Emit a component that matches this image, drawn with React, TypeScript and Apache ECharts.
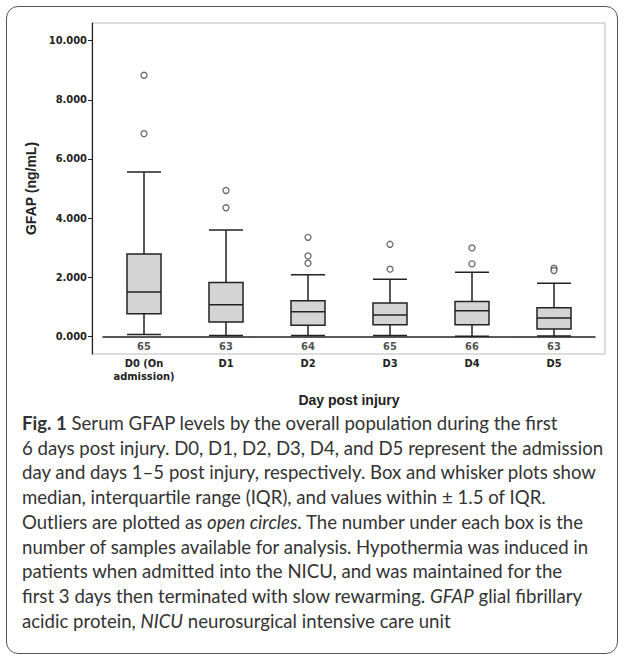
import React, { useEffect, useRef } from "react";
import * as echarts from "echarts";

const categories = ["D0 (On\nadmission)", "D1", "D2", "D3", "D4", "D5"];
// [low, Q1, median, Q3, high]
const boxes = [
  [56, 764, 1494, 2787, 5562],
  [22, 483, 1067, 1820, 3596],
  [22, 371, 831, 1202, 2079],
  [22, 393, 719, 1124, 1933],
  [0, 393, 865, 1180, 2169],
  [10, 247, 618, 966, 1798],
];
const outliers = [
  [0, 8831], [0, 6854],
  [1, 4933], [1, 4348],
  [2, 3348], [2, 2719], [2, 2472],
  [3, 3112], [3, 2270],
  [4, 2989], [4, 2449],
  [5, 2303], [5, 2225],
];
const counts = [65, 63, 64, 65, 66, 63];
const yTicks = [0, 2000, 4000, 6000, 8000, 10000];

export default function App() {
  const ref = useRef<HTMLDivElement>(null);
  useEffect(() => {
    const chart = echarts.init(ref.current!, null, { renderer: "svg" });
    const lab = { fontFamily: "Liberation Sans Narrow, DejaVu Sans Condensed, sans-serif", fontWeight: "bold", fontSize: 11, color: "#222" };
    chart.setOption({
      animation: false,
      graphic: [
        { type: "rect", shape: { x: 92, y: 23, width: 513, height: 331 }, style: { fill: "none", stroke: "#bbb", lineWidth: 1 }, z: 0 },
      ],
      grid: { left: 103, top: 23, width: 492, height: 331, outerBoundsMode: "none", containLabel: false },
      xAxis: {
        type: "category",
        data: categories,
        axisLine: { lineStyle: { color: "#222", width: 1.5 } },
        axisTick: { show: false },
        axisLabel: { ...lab, margin: 3, lineHeight: 13 },
        name: "Day post injury",
        nameLocation: "middle",
        nameGap: 39,
        nameTextStyle: { fontFamily: "Liberation Sans Narrow, sans-serif", fontWeight: "bold", fontSize: 14, color: "#222" },
        splitLine: { show: false },
      },
      yAxis: {
        type: "value",
        min: -600,
        max: 10600,
        offset: 11,
        axisLine: { show: true, lineStyle: { color: "#222", width: 1.2 } },
        axisTick: { show: true, customValues: yTicks, length: 4, lineStyle: { color: "#222" } },
        splitLine: { show: false },
        axisLabel: {
          ...lab,
          margin: 5,
          customValues: yTicks,
          formatter: (v: number) => (v / 1000).toFixed(3),
        },
        name: "GFAP (ng/mL)",
        nameLocation: "middle",
        nameGap: 44,
        nameRotate: 90,
        nameTextStyle: { fontFamily: "Liberation Sans, sans-serif", fontWeight: "bold", fontSize: 14, color: "#222" },
      },
      series: [
        {
          type: "boxplot",
          data: boxes,
          boxWidth: [34, 34],
          itemStyle: { color: "#d4d4d4", borderColor: "#222", borderWidth: 1.5 },
        },
        {
          type: "scatter",
          data: outliers,
          symbol: "circle",
          symbolSize: 6,
          itemStyle: { color: "#fff", borderColor: "#444", borderWidth: 1.3 },
        },
        {
          type: "scatter",
          data: counts.map((c, i) => [i, -330, c]),
          symbolSize: 0,
          label: { show: true, position: "inside", formatter: (p: any) => String(p.value[2]), ...lab, fontSize: 11 },
        },
      ],
    });
    return () => chart.dispose();
  }, []);
  return (
    <div style={{ position: "absolute", left: 0, top: 0, width: 624, height: 657, background: "#fff" }}>
      <div style={{ position: "absolute", left: 6, top: 6, width: 610, height: 646, border: "1.5px solid #555", borderRadius: 12 }} />
      <div ref={ref} style={{ position: "absolute", left: 0, top: 0, width: 624, height: 410 }} />
      <div style={{ position: "absolute", left: 22, top: 411, width: 600, fontFamily: "Lato, sans-serif", fontSize: 18.6, lineHeight: "24.7px", color: "#333", whiteSpace: "nowrap" }}>
        <b>Fig. 1</b> Serum GFAP levels by the overall population during the first<br />
        6 days post injury. D0, D1, D2, D3, D4, and D5 represent the admission<br />
        day and days 1–5 post injury, respectively. Box and whisker plots show<br />
        median, interquartile range (IQR), and values within ± 1.5 of IQR.<br />
        Outliers are plotted as <i>open circles</i>. The number under each box is the<br />
        number of samples available for analysis. Hypothermia was induced in<br />
        patients when admitted into the NICU, and was maintained for the<br />
        first 3 days then terminated with slow rewarming. <i>GFAP</i> glial fibrillary<br />
        acidic protein, <i>NICU</i> neurosurgical intensive care unit
      </div>
    </div>
  );
}
